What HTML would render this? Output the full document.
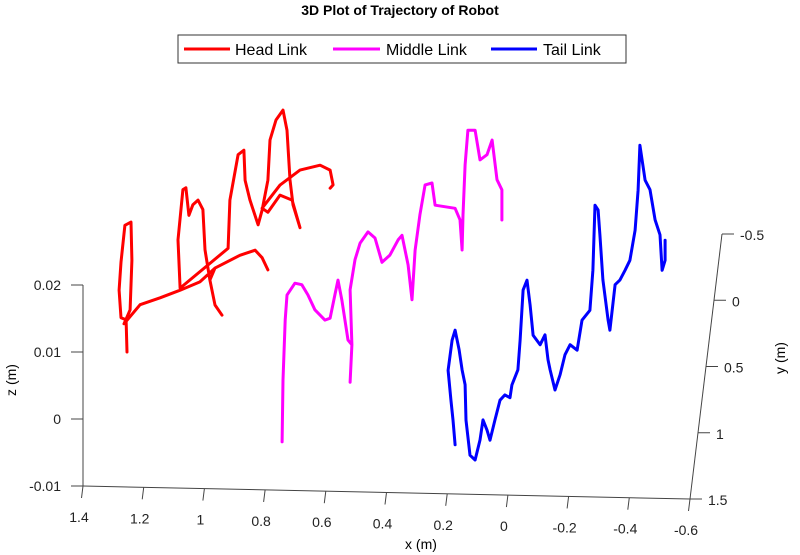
<!DOCTYPE html>
<html><head><meta charset="utf-8"><style>
html,body{margin:0;padding:0;background:#fff}
svg{display:block;font-family:"Liberation Sans",sans-serif}
</style></head><body>
<svg id="chart" width="800" height="555" viewBox="0 0 800 555" xmlns="http://www.w3.org/2000/svg">
<text x="400" y="15" text-anchor="middle" font-size="14" font-weight="bold">3D Plot of Trajectory of Robot</text>
<g>
<rect x="178" y="35" width="448" height="28" fill="#fff" stroke="#333" stroke-width="1"/>
<g><line x1="184" y1="49" x2="230" y2="49" stroke="#ff0000" stroke-width="3"/><text x="235" y="55" font-size="16">Head Link</text></g>
<g><line x1="333" y1="49" x2="380" y2="49" stroke="#ff00ff" stroke-width="3"/><text x="386" y="55" font-size="16">Middle Link</text></g>
<g><line x1="491" y1="49" x2="537" y2="49" stroke="#0000ff" stroke-width="3"/><text x="543" y="55" font-size="16">Tail Link</text></g>
</g>
<g id="axes"></g>
<g id="series"></g>
<text x="421" y="549" text-anchor="middle" font-size="14">x (m)</text>
<text transform="translate(16,380) rotate(-90)" text-anchor="middle" font-size="14">z (m)</text>
<text transform="translate(785,358) rotate(-90)" text-anchor="middle" font-size="14">y (m)</text>
</svg>
<script>
const xTicks=[1.4,1.2,1,0.8,0.6,0.4,0.2,0,-0.2,-0.4,-0.6];
const yTicks=[-0.5,0,0.5,1,1.5];
const zTicks=[-0.01,0,0.01,0.02];
const headX=[1.334,1.337,1.354,1.360,1.354,1.341,1.321,1.318,1.324,1.344,1.291,1.225,1.159,1.094,1.044,0.962,0.912,0.889,0.870,0.889,0.912,0.962,1.044,1.061,1.044,1.021,1.044,1.061,1.077,1.084,1.100,1.117,1.130,1.140,1.150,1.166,1.159,1.001,0.995,0.968,0.949,0.945,0.929,0.902,0.889,0.870,0.863,0.843,0.820,0.807,0.797,0.787,0.764,0.790,0.830,0.870,0.889,0.830,0.764,0.698,0.665,0.655,0.665];
const headZ=[-0.0196,-0.0148,-0.0145,-0.0104,-0.0062,-0.0007,-0.0002,-0.0059,-0.0133,-0.0154,-0.0125,-0.0114,-0.0102,-0.0089,-0.0068,-0.0048,-0.0040,-0.0051,-0.0069,-0.0051,-0.0040,-0.0048,-0.0068,-0.0086,-0.0123,-0.0138,-0.0123,-0.0086,-0.0041,0.0019,0.0033,0.0026,0.0010,0.0051,0.0048,-0.0027,-0.0099,-0.0038,0.0034,0.0102,0.0109,0.0064,0.0035,-0.0002,0.0020,0.0065,0.0125,0.0155,0.0170,0.0140,0.0066,0.0029,-0.0005,0.0036,0.0043,0.0017,0.0023,0.0058,0.0081,0.0089,0.0082,0.0060,0.0055];
const midX=[0.823,0.820,0.813,0.807,0.781,0.758,0.738,0.715,0.682,0.665,0.649,0.639,0.626,0.606,0.593,0.599,0.593,0.599,0.583,0.566,0.540,0.517,0.494,0.468,0.441,0.428,0.408,0.395,0.385,0.369,0.352,0.329,0.319,0.253,0.237,0.230,0.227,0.220,0.211,0.187,0.171,0.148,0.131,0.115,0.099,0.099];
const midZ=[-0.0325,-0.0233,-0.0143,-0.0106,-0.0088,-0.0090,-0.0105,-0.0127,-0.0142,-0.0139,-0.0104,-0.0082,-0.0112,-0.0171,-0.0178,-0.0234,-0.0178,-0.0096,-0.0051,-0.0026,-0.0009,-0.0018,-0.0054,-0.0043,-0.0020,-0.0013,-0.0057,-0.0109,-0.0035,0.0018,0.0063,0.0066,0.0033,0.0029,0.0012,-0.0033,0.0019,0.0094,0.0146,0.0146,0.0102,0.0110,0.0132,0.0073,0.0058,0.0013];
const tailX=[0.253,0.260,0.267,0.276,0.263,0.253,0.240,0.230,0.220,0.217,0.204,0.187,0.171,0.161,0.148,0.138,0.122,0.105,0.089,0.072,0.066,0.046,0.039,0.029,0.016,0.006,-0.004,-0.027,-0.043,-0.053,-0.060,-0.076,-0.093,-0.109,-0.126,-0.149,-0.165,-0.191,-0.201,-0.208,-0.218,-0.224,-0.234,-0.251,-0.257,-0.274,-0.290,-0.307,-0.323,-0.340,-0.350,-0.356,-0.373,-0.389,-0.406,-0.422,-0.429,-0.439,-0.439];
const tailZ=[-0.0324,-0.0287,-0.0257,-0.0213,-0.0168,-0.0153,-0.0182,-0.0212,-0.0234,-0.0287,-0.0339,-0.0346,-0.0316,-0.0286,-0.0301,-0.0316,-0.0286,-0.0256,-0.0248,-0.0252,-0.0233,-0.0210,-0.0166,-0.0091,-0.0076,-0.0113,-0.0158,-0.0172,-0.0157,-0.0194,-0.0209,-0.0239,-0.0216,-0.0186,-0.0171,-0.0179,-0.0134,-0.0119,-0.0059,0.0038,0.0031,-0.0006,-0.0073,-0.0133,-0.0148,-0.0080,-0.0073,-0.0058,-0.0043,0.0002,0.0062,0.0129,0.0077,0.0063,0.0018,-0.0004,-0.0057,-0.0042,-0.0012];
const trajY=0;

function proj(x,y,z){
  return [690-(x+0.6)*303.5-(y-1.5)*16, 499-(x+0.6)*6.5+(y-1.5)*132.5-(z+0.01)*6700];
}
const NS='http://www.w3.org/2000/svg';
const axes=document.getElementById('axes'), ser=document.getElementById('series');
function mk(tag,attrs,parent){const e=document.createElementNS(NS,tag);for(const k in attrs)e.setAttribute(k,attrs[k]);parent.appendChild(e);return e;}
const axStyle={stroke:'#444','stroke-width':1,fill:'none'};
let a=proj(1.4,1.5,-0.01),b=proj(-0.6,1.5,-0.01);
let el=mk('line',Object.assign({x1:a[0],y1:a[1],x2:b[0],y2:b[1]},axStyle),axes);


xTicks.forEach(t=>{const p=proj(t,1.5,-0.01);
  const tk=mk('line',Object.assign({x1:p[0],y1:p[1],x2:p[0]-1.5,y2:p[1]+12},axStyle),axes);
  
  
  const tx=mk('text',{x:p[0]-4,y:p[1]+36,'text-anchor':'middle','font-size':14,fill:'#222'},axes);
  tx.textContent=String(t);
  
  });
a=proj(1.4,1.5,-0.01);b=proj(1.4,1.5,0.02);
el=mk('line',Object.assign({x1:a[0],y1:a[1],x2:b[0],y2:b[1]},axStyle),axes);


zTicks.forEach(t=>{const p=proj(1.4,1.5,t);
  const tk=mk('line',Object.assign({x1:p[0],y1:p[1],x2:p[0]-12,y2:p[1]},axStyle),axes);
  
  
  const tx=mk('text',{x:p[0]-22,y:p[1]+5,'text-anchor':'end','font-size':14,fill:'#222'},axes);
  tx.textContent=String(t);
  
  });
a=proj(-0.6,1.5,-0.01);b=proj(-0.6,-0.5,-0.01);
el=mk('line',Object.assign({x1:a[0],y1:a[1],x2:b[0],y2:b[1]},axStyle),axes);


yTicks.forEach(t=>{const p=proj(-0.6,t,-0.01);
  const tk=mk('line',Object.assign({x1:p[0],y1:p[1],x2:p[0]+12,y2:p[1]},axStyle),axes);
  
  
  const tx=mk('text',{x:p[0]+18,y:p[1]+6,'text-anchor':'start','font-size':14,fill:'#222'},axes);
  tx.textContent=String(t);
  
  });
function drawSeries(xs,zs,color,name){
  const pts=xs.map((x,i)=>proj(x,trajY,zs[i]).map(v=>v.toFixed(1)).join(',')).join(' ');
  const pl=mk('polyline',{points:pts,fill:'none',stroke:color,'stroke-width':3,'stroke-linejoin':'round','stroke-linecap':'round'},ser);
  
  
}
drawSeries(headX,headZ,'#ff0000','head-link-trajectory');
drawSeries(midX,midZ,'#ff00ff','middle-link-trajectory');
drawSeries(tailX,tailZ,'#0000ff','tail-link-trajectory');
</script>
</body></html>
